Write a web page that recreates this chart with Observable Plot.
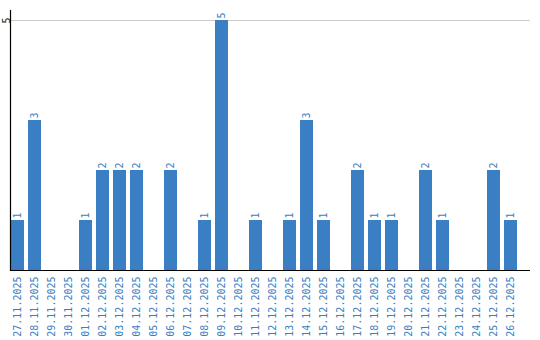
<!DOCTYPE html>
<html>
<head>
<meta charset="utf-8">
<script src="https://cdn.jsdelivr.net/npm/d3@7"></script>
<script src="https://cdn.jsdelivr.net/npm/@observablehq/plot@0.6"></script>
<style>
  html, body { margin: 0; padding: 0; background: #fff; }
  svg { display: block; }
</style>
</head>
<body>
<div id="chart"></div>
<script>
const dates = ["27.11.2025","28.11.2025","29.11.2025","30.11.2025","01.12.2025","02.12.2025","03.12.2025","04.12.2025","05.12.2025","06.12.2025","07.12.2025","08.12.2025","09.12.2025","10.12.2025","11.12.2025","12.12.2025","13.12.2025","14.12.2025","15.12.2025","16.12.2025","17.12.2025","18.12.2025","19.12.2025","20.12.2025","21.12.2025","22.12.2025","23.12.2025","24.12.2025","25.12.2025","26.12.2025"];
const counts = [1,3,0,0,1,2,2,2,0,2,0,1,5,0,1,0,1,3,1,0,2,1,1,0,2,1,0,0,2,1];
const yTicks = [5];

const data = dates.map((d, i) => ({date: d, count: counts[i]}));
const blue = "#3a7ec3";

const chart = Plot.plot({
  width: 540,
  height: 340,
  marginLeft: 10,
  marginRight: 10,
  marginTop: 10,
  marginBottom: 70,
  style: {fontFamily: "DejaVu Sans Mono", fontSize: "10px", background: "#fff"},
  x: {domain: dates, paddingInner: 0.1765, paddingOuter: 0.382, align: 0, label: null},
  y: {domain: [0, 5.2], label: null},
  marks: [
    Plot.ruleY(yTicks, {stroke: "#cccccc", strokeWidth: 1}),
    Plot.barY(data, {x: "date", y: "count", fill: blue, insetLeft: 1}),
    Plot.text(data.filter(d => d.count > 0), {x: "date", y: "count", text: d => String(d.count), rotate: -90, textAnchor: "start", dy: -2, dx: 0, fill: blue, fontSize: 10}),
    Plot.ruleY([0], {stroke: "#000", strokeWidth: 1.2}),
    Plot.frame({anchor: "left", stroke: "#000", strokeWidth: 1.2}),
    Plot.axisX({tickSize: 0, tickRotate: -90, tickPadding: 6, fill: blue, label: null, fontSize: 10}),
    Plot.axisY(yTicks, {tickSize: 0, tickRotate: -90, tickPadding: 1, tickFormat: "d", fill: "#222", label: null, fontSize: 10, textAnchor: "middle"})
  ]
});
document.getElementById("chart").appendChild(chart);
</script>
</body>
</html>
